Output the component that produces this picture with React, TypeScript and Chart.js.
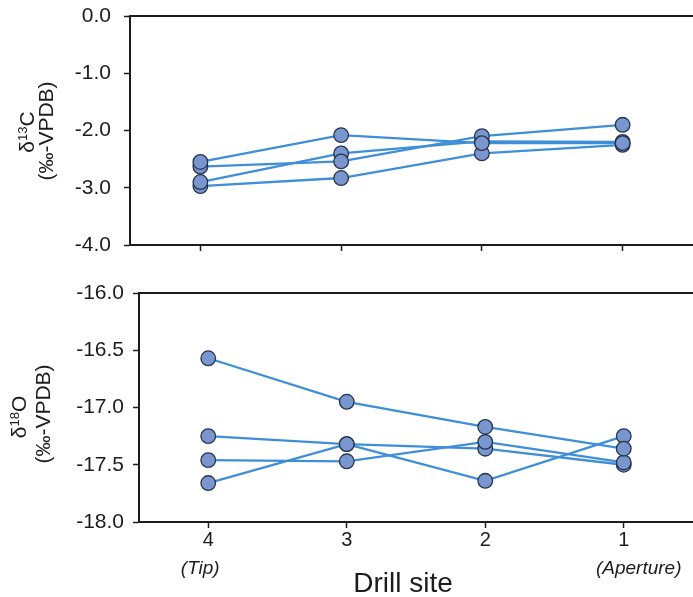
import React, { useEffect, useRef } from "react";
import { Chart, registerables } from "chart.js";

Chart.register(...registerables);

// ---- data ----
const sites = [4, 3, 2, 1];
const siteNotes = ["(Tip)", "", "", "(Aperture)"];
const xTitle = "Drill site";

const c13Ticks = [0, -1, -2, -3, -4];
const o18Ticks = [-16, -16.5, -17, -17.5, -18];

const c13S1 = [-2.55, -2.08, -2.22, -2.22];
const c13S2 = [-2.63, -2.54, -2.1, -1.9];
const c13S3 = [-2.9, -2.4, -2.19, -2.2];
const c13S4 = [-2.97, -2.83, -2.4, -2.25];

const o18S1 = [-16.57, -16.95, -17.17, -17.36];
const o18S2 = [-17.25, -17.32, -17.64, -17.25];
const o18S3 = [-17.46, -17.47, -17.3, -17.48];
const o18S4 = [-17.66, -17.32, -17.36, -17.5];

// ---- style ----
const FONT = "'Liberation Sans', Arial, Helvetica, sans-serif";
const INK = "#1c1c1c";
const LINE = "#3f8ed8";
const FILL = "#7a96cf";
const EDGE = "#26334f";

function buildDatasets(series: number[][]) {
  const pts = (arr: number[]) => sites.map((s, i) => ({ x: s, y: arr[i] }));
  const lines = series.map((arr) => ({
    data: pts(arr),
    showLine: true,
    borderColor: LINE,
    borderWidth: 2.3,
    pointRadius: 0,
    pointHoverRadius: 0,
    order: 2,
  }));
  const dots = series.map((arr) => ({
    data: pts(arr),
    showLine: false,
    pointRadius: 7.3,
    pointHoverRadius: 7.3,
    pointBackgroundColor: FILL,
    pointBorderColor: EDGE,
    pointBorderWidth: 1.3,
    order: 1,
  }));
  return [...lines, ...dots];
}

type Part = { text: string; size: number; rise?: number };

function drawRotated(ctx: CanvasRenderingContext2D, cx: number, cy: number, parts: Part[], capSize: number) {
  ctx.save();
  ctx.translate(cx, cy);
  ctx.rotate(-Math.PI / 2);
  ctx.fillStyle = INK;
  ctx.textBaseline = "alphabetic";
  ctx.textAlign = "left";
  let total = 0;
  const widths = parts.map((p) => {
    ctx.font = `${p.size}px ${FONT}`;
    const w = ctx.measureText(p.text).width;
    total += w;
    return w;
  });
  let x = -total / 2;
  const base = capSize * 0.36;
  parts.forEach((p, i) => {
    ctx.font = `${p.size}px ${FONT}`;
    ctx.fillText(p.text, x, base - (p.rise || 0));
    x += widths[i];
  });
  ctx.restore();
}

function makeDecor(opts: {
  iso: string;
  sup: string;
  t1: [number, number];
  t2: [number, number];
  bottomLabels: boolean;
}) {
  return {
    id: "decor",
    afterDraw(chart: any) {
      const { ctx, chartArea: a } = chart;
      ctx.save();
      ctx.strokeStyle = INK;
      ctx.lineWidth = 2;
      ctx.beginPath();
      ctx.moveTo(a.left - 1, a.top);
      ctx.lineTo(a.right, a.top);
      ctx.stroke();

      drawRotated(
        ctx,
        opts.t1[0],
        opts.t1[1],
        [
          { text: "δ", size: 21 },
          { text: opts.sup, size: 13, rise: 7 },
          { text: opts.iso, size: 21 },
        ],
        21
      );
      drawRotated(ctx, opts.t2[0], opts.t2[1], [{ text: "(‰-VPDB)", size: 21 }], 21);

      if (opts.bottomLabels) {
        const xs = chart.scales.x;
        ctx.fillStyle = INK;
        ctx.textBaseline = "middle";
        ctx.textAlign = "center";
        ctx.font = `italic 19px ${FONT}`;
        const off = [-8, 0, 0, 15];
        sites.forEach((s, i) => {
          if (!siteNotes[i]) return;
          ctx.fillText(siteNotes[i], xs.getPixelForValue(s) + off[i], 299);
        });
        ctx.font = `28px ${FONT}`;
        ctx.fillText(xTitle, 403, 314);
      }
      ctx.restore();
    },
  };
}

function zeroPad(s: any) {
  s.paddingLeft = 0;
  s.paddingRight = 0;
  s.paddingTop = 0;
  s.paddingBottom = 0;
}

function makeConfig(p: {
  series: number[][];
  yMin: number;
  yMax: number;
  yTicks: number[];
  yWidth: number;
  yPad: number;
  xHeight: number;
  showX: boolean;
  padTop: number;
  decor: any;
}) {
  return {
    type: "scatter" as const,
    data: { datasets: buildDatasets(p.series) },
    options: {
      animation: false,
      responsive: false,
      maintainAspectRatio: false,
      events: [],
      layout: { autoPadding: false, padding: { top: p.padTop, left: 0, right: 0, bottom: 0 } },
      plugins: { legend: { display: false }, tooltip: { enabled: false } },
      scales: {
        x: {
          type: "linear",
          reverse: true,
          min: 0.5,
          max: 4.5,
          afterBuildTicks: (s: any) => {
            s.ticks = sites.map((v) => ({ value: v }));
          },
          afterFit: (s: any) => {
            s.height = p.xHeight;
            zeroPad(s);
          },
          ticks: {
            display: p.showX,
            color: INK,
            font: { family: FONT, size: 20 },
            padding: 0,
            maxRotation: 0,
            callback: (v: any) => String(v),
          },
          grid: {
            display: true,
            drawOnChartArea: false,
            drawTicks: true,
            tickLength: 6,
            color: INK,
            tickWidth: 1.5,
          },
          border: { display: true, color: INK, width: 2 },
        },
        y: {
          type: "linear",
          min: p.yMin,
          max: p.yMax,
          afterBuildTicks: (s: any) => {
            s.ticks = p.yTicks.map((v) => ({ value: v }));
          },
          afterFit: (s: any) => {
            s.width = p.yWidth;
            zeroPad(s);
          },
          ticks: {
            color: INK,
            font: { family: FONT, size: 21 },
            padding: p.yPad,
            callback: (v: any) => Number(v).toFixed(1),
          },
          grid: {
            display: true,
            drawOnChartArea: false,
            drawTicks: true,
            tickLength: 6,
            color: INK,
            tickWidth: 1.5,
          },
          border: { display: true, color: INK, width: 2 },
        },
      },
    },
    plugins: [p.decor],
  };
}

export default function App() {
  const topRef = useRef<HTMLCanvasElement | null>(null);
  const botRef = useRef<HTMLCanvasElement | null>(null);

  useEffect(() => {
    const top = new Chart(
      topRef.current as HTMLCanvasElement,
      makeConfig({
        series: [c13S1, c13S2, c13S3, c13S4],
        yMin: -4,
        yMax: 0,
        yTicks: c13Ticks,
        yWidth: 130,
        yPad: 13,
        xHeight: 25,
        showX: false,
        padTop: 16,
        decor: makeDecor({ iso: "C", sup: "13", t1: [26, 132], t2: [45, 131], bottomLabels: false }),
      }) as any
    );
    const bot = new Chart(
      botRef.current as HTMLCanvasElement,
      makeConfig({
        series: [o18S1, o18S2, o18S3, o18S4],
        yMin: -18,
        yMax: -16,
        yTicks: o18Ticks,
        yWidth: 139,
        yPad: 9,
        xHeight: 75,
        showX: true,
        padTop: 23,
        decor: makeDecor({ iso: "O", sup: "18", t1: [18, 147], t2: [42, 144], bottomLabels: true }),
      }) as any
    );
    return () => {
      top.destroy();
      bot.destroy();
    };
  }, []);

  return (
    <div style={{ position: "absolute", left: 0, top: 0, width: 693, height: 597, background: "#fff" }}>
      <canvas
        ref={topRef}
        width={693}
        height={270}
        style={{ position: "absolute", left: 0, top: 0, width: 693, height: 270 }}
      />
      <canvas
        ref={botRef}
        width={693}
        height={327}
        style={{ position: "absolute", left: 0, top: 270, width: 693, height: 327 }}
      />
    </div>
  );
}
